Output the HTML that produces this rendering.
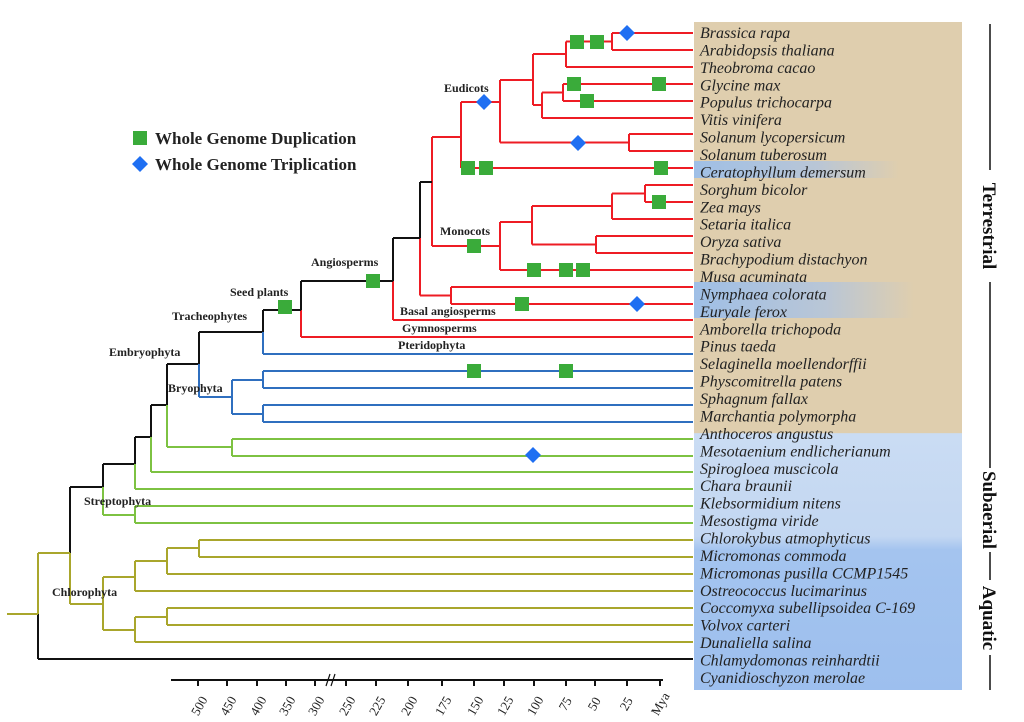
<!DOCTYPE html>
<html><head><meta charset="utf-8"><style>
body{margin:0;background:#fff;}
svg{display:block;}
.cl{font-family:"Liberation Serif",serif;font-weight:bold;font-size:12px;fill:#222;}
.sp{font-family:"Liberation Serif",serif;font-style:italic;font-size:16px;fill:#222;}
.lg{font-family:"Liberation Serif",serif;font-weight:bold;font-size:17px;fill:#222;}
.ax{font-family:"Liberation Serif",serif;font-size:13px;fill:#222;}
.rv{font-family:"Liberation Serif",serif;font-weight:bold;font-size:19px;fill:#111;}
</style></head><body>
<svg width="1024" height="722" viewBox="0 0 1024 722" xmlns="http://www.w3.org/2000/svg">
<defs>
<linearGradient id="bg" x1="0" y1="0" x2="0" y2="1">
<stop offset="0" stop-color="#dfceae"/><stop offset="0.615" stop-color="#dfceae"/>
<stop offset="0.616" stop-color="#cadcf3"/><stop offset="0.77" stop-color="#c3d7f2"/>
<stop offset="0.79" stop-color="#a4c4ef"/><stop offset="1" stop-color="#9dbfee"/>
</linearGradient>
<linearGradient id="hb" x1="0" y1="0" x2="1" y2="0">
<stop offset="0" stop-color="#9fbfe6"/><stop offset="0.6" stop-color="#b9c6d6"/><stop offset="1" stop-color="#dfceae"/>
</linearGradient>
</defs>
<rect x="694" y="22" width="268" height="668" fill="url(#bg)"/>
<rect x="694" y="161" width="205" height="17" fill="url(#hb)"/>
<rect x="694" y="282" width="220" height="36" fill="url(#hb)"/>

<g fill="none" stroke-width="2">
<g stroke="#ee1c24">
<path d="M612 33H693M612 50H693M612 33V50M566 41.5H612M566 67H693M566 41.5V67M563 84H693M563 101H693M563 84V101M542 92.5H563M542 118H693M542 92.5V118M533 54H566M533 105H542M533 54V105M629 134H693M629 151H693M629 134V151M500 142.5H629M500 80H533M500 80V142.5M461 102H500M461 168H693M461 102V168M432 137H461"/>
<path d="M645 185H693M645 202H693M645 185V202M612 193.5H645M612 219H693M612 193.5V219M596 236H693M596 253H693M596 236V253M532 206H612M532 244.5H596M532 206V244.5M500 222H532M500 270H693M500 222V270M432 246H500M432 137V246"/>
<path d="M451 287H693M451 304H693M451 287V304M420 295.5H451M420 238V295.5M393 320H693M393 281V320M301 337H693M301 310V337"/>
</g>
<g stroke="#111">
<path d="M420 182H432M420 182V238M393 238H420M393 238V281M301 281H393M301 281V310M263 310H301M263 310V332M199 332H263M199 332V364M167 364H199M167 364V405M151 405H167M151 405V437M135 437H151M135 437V464M103 464H135M103 464V487M70 487H103M70 487V553M38 614V659M38 659H693"/>
</g>
<g stroke="#2f6fbf">
<path d="M263 332V354M263 354H693M199 364V397M199 397H232M232 380V414M232 380H263M232 414H263M263 371V388M263 371H693M263 388H693M263 405V422M263 405H693M263 422H693"/>
</g>
<g stroke="#7dc242">
<path d="M167 405V447M167 447H232M232 439V456M232 439H693M232 456H693M151 437V472M151 472H693M135 464V489M135 489H693M103 487V515M103 515H135M135 506V523M135 506H693M135 523H693"/>
</g>
<g stroke="#a9a62c">
<path d="M7 614H38M38 553V614M38 553H70M70 553V604M70 604H103M103 577V630M103 577H135M135 561V591M135 561H167M167 548V574M167 548H199M199 540V557M199 540H693M199 557H693M167 574H693M135 591H693M103 630H135M135 617V642M135 617H167M167 608V625M167 608H693M167 625H693M135 642H693"/>
</g>
</g>

<g fill="#3aab3a">
<rect x="570" y="35" width="14" height="14"/><rect x="590" y="35" width="14" height="14"/>
<rect x="567" y="77" width="14" height="14"/><rect x="652" y="77" width="14" height="14"/>
<rect x="580" y="94" width="14" height="14"/>
<rect x="461" y="161" width="14" height="14"/><rect x="479" y="161" width="14" height="14"/><rect x="654" y="161" width="14" height="14"/>
<rect x="652" y="195" width="14" height="14"/>
<rect x="467" y="239" width="14" height="14"/>
<rect x="527" y="263" width="14" height="14"/><rect x="559" y="263" width="14" height="14"/><rect x="576" y="263" width="14" height="14"/>
<rect x="515" y="297" width="14" height="14"/>
<rect x="366" y="274" width="14" height="14"/>
<rect x="278" y="300" width="14" height="14"/>
<rect x="467" y="364" width="14" height="14"/><rect x="559" y="364" width="14" height="14"/>
<rect x="133" y="131" width="14" height="14"/>
</g>
<g fill="#1f6ff2">
<path d="M627 25l8 8-8 8-8-8z"/>
<path d="M484 94l8 8-8 8-8-8z"/>
<path d="M578 135l8 8-8 8-8-8z"/>
<path d="M637 296l8 8-8 8-8-8z"/>
<path d="M533 447l8 8-8 8-8-8z"/>
<path d="M140 156l8 8-8 8-8-8z"/>
</g>

<text class="lg" x="155" y="144">Whole Genome Duplication</text>
<text class="lg" x="155" y="170">Whole Genome Triplication</text>

<g class="cl">
<text x="444" y="92">Eudicots</text>
<text x="440" y="235">Monocots</text>
<text x="311" y="266">Angiosperms</text>
<text x="230" y="296">Seed plants</text>
<text x="172" y="320">Tracheophytes</text>
<text x="109" y="356">Embryophyta</text>
<text x="168" y="392">Bryophyta</text>
<text x="400" y="315">Basal angiosperms</text>
<text x="402" y="332">Gymnosperms</text>
<text x="398" y="349">Pteridophyta</text>
<text x="84" y="505">Streptophyta</text>
<text x="52" y="596">Chlorophyta</text>
</g>

<g class="sp">
<text x="700" y="38">Brassica rapa</text>
<text x="700" y="55.4">Arabidopsis thaliana</text>
<text x="700" y="72.9">Theobroma cacao</text>
<text x="700" y="90.3">Glycine max</text>
<text x="700" y="107.7">Populus trichocarpa</text>
<text x="700" y="125.2">Vitis vinifera</text>
<text x="700" y="142.6">Solanum lycopersicum</text>
<text x="700" y="160">Solanum tuberosum</text>
<text x="700" y="177.4">Ceratophyllum demersum</text>
<text x="700" y="194.9">Sorghum bicolor</text>
<text x="700" y="212.3">Zea mays</text>
<text x="700" y="229.7">Setaria italica</text>
<text x="700" y="247.2">Oryza sativa</text>
<text x="700" y="264.6">Brachypodium distachyon</text>
<text x="700" y="282">Musa acuminata</text>
<text x="700" y="299.5">Nymphaea colorata</text>
<text x="700" y="316.9">Euryale ferox</text>
<text x="700" y="334.3">Amborella trichopoda</text>
<text x="700" y="351.7">Pinus taeda</text>
<text x="700" y="369.2">Selaginella moellendorffii</text>
<text x="700" y="386.6">Physcomitrella patens</text>
<text x="700" y="404">Sphagnum fallax</text>
<text x="700" y="421.5">Marchantia polymorpha</text>
<text x="700" y="438.9">Anthoceros angustus</text>
<text x="700" y="456.3">Mesotaenium endlicherianum</text>
<text x="700" y="473.8">Spirogloea muscicola</text>
<text x="700" y="491.2">Chara braunii</text>
<text x="700" y="508.6">Klebsormidium nitens</text>
<text x="700" y="526">Mesostigma viride</text>
<text x="700" y="543.5">Chlorokybus atmophyticus</text>
<text x="700" y="560.9">Micromonas commoda</text>
<text x="700" y="578.3">Micromonas pusilla CCMP1545</text>
<text x="700" y="595.8">Ostreococcus lucimarinus</text>
<text x="700" y="613.2">Coccomyxa subellipsoidea C-169</text>
<text x="700" y="630.6">Volvox carteri</text>
<text x="700" y="648.1">Dunaliella salina</text>
<text x="700" y="665.5">Chlamydomonas reinhardtii</text>
<text x="700" y="683">Cyanidioschyzon merolae</text>
</g>

<g stroke="#111" stroke-width="1.5">
<line x1="990" y1="24" x2="990" y2="170"/>
<line x1="990" y1="282" x2="990" y2="468"/>
<line x1="990" y1="552" x2="990" y2="580"/>
<line x1="990" y1="655" x2="990" y2="690"/>
</g>
<text class="rv" transform="translate(983,226) rotate(90)" text-anchor="middle">Terrestrial</text>
<text class="rv" transform="translate(983,510) rotate(90)" text-anchor="middle">Subaerial</text>
<text class="rv" transform="translate(983,618) rotate(90)" text-anchor="middle">Aquatic</text>

<g stroke="#111" stroke-width="2">
<line x1="171" y1="680" x2="663" y2="680"/>
<path d="M198 680v6M227 680v6M257 680v6M286 680v6M315 680v6M346 680v6M376 680v6M408 680v6M442 680v6M474 680v6M504 680v6M534 680v6M566 680v6M595 680v6M627 680v6M660 680v6"/>
<path d="M326 686l4-12M331 686l4-12" stroke-width="1.2"/>
</g>
<g class="ax">
<text transform="translate(203,708) rotate(-60)" text-anchor="middle">500</text>
<text transform="translate(232,708) rotate(-60)" text-anchor="middle">450</text>
<text transform="translate(262,708) rotate(-60)" text-anchor="middle">400</text>
<text transform="translate(291,708) rotate(-60)" text-anchor="middle">350</text>
<text transform="translate(320,708) rotate(-60)" text-anchor="middle">300</text>
<text transform="translate(351,708) rotate(-60)" text-anchor="middle">250</text>
<text transform="translate(381,708) rotate(-60)" text-anchor="middle">225</text>
<text transform="translate(413,708) rotate(-60)" text-anchor="middle">200</text>
<text transform="translate(447,708) rotate(-60)" text-anchor="middle">175</text>
<text transform="translate(479,708) rotate(-60)" text-anchor="middle">150</text>
<text transform="translate(509,708) rotate(-60)" text-anchor="middle">125</text>
<text transform="translate(539,708) rotate(-60)" text-anchor="middle">100</text>
<text transform="translate(569,706) rotate(-60)" text-anchor="middle">75</text>
<text transform="translate(598,706) rotate(-60)" text-anchor="middle">50</text>
<text transform="translate(630,706) rotate(-60)" text-anchor="middle">25</text>
<text transform="translate(664,706) rotate(-60)" text-anchor="middle">Mya</text>
</g>
</svg>
</body></html>
